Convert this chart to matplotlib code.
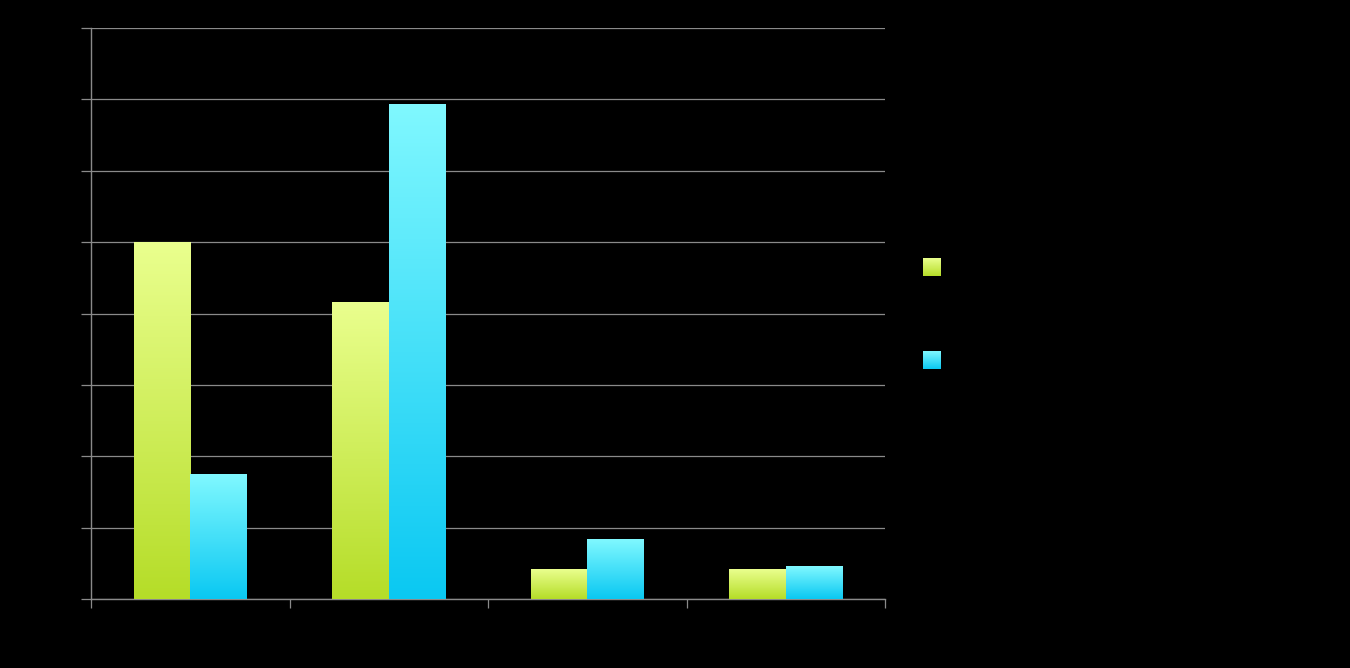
import numpy as np
import matplotlib
matplotlib.use("Agg")
import matplotlib.pyplot as plt
from matplotlib.colors import LinearSegmentedColormap

# values (grid units, 8 gridlines)
categories = ["", "", "", ""]
series_green = [5.0, 4.16, 0.41, 0.41]
series_blue = [1.75, 6.93, 0.83, 0.46]

green_cmap = LinearSegmentedColormap.from_list("g", ["#B5DD28", "#EAFF8E"])
blue_cmap = LinearSegmentedColormap.from_list("b", ["#0AC8F2", "#80F8FF"])
grad = np.linspace(0, 1, 256).reshape(-1, 1)

fig = plt.figure(figsize=[13.5, 6.68], dpi=100, facecolor="black")
ax = fig.add_axes([91 / 1350, 69 / 668, 794 / 1350, 571 / 668])
ax.set_facecolor("black")

x = np.arange(len(categories))
w = 0.285
# draw each bar as a vertical gradient image placed through data coords
for vals, cmap, off in [(series_green, green_cmap, -w / 2), (series_blue, blue_cmap, w / 2)]:
    bars = ax.bar(x + off, vals, width=w, color="none", edgecolor="none", zorder=3)
    for b in bars:
        x0, x1 = b.get_x(), b.get_x() + b.get_width()
        ax.imshow(grad, cmap=cmap, origin="lower", aspect="auto",
                  extent=[x0, x1, 0, b.get_height()], zorder=3)

ax.set_xlim(-0.5, len(categories) - 0.5)
ax.set_ylim(0, 8)
ax.set_yticks(np.arange(0, 9))
ax.set_xticks(np.arange(-0.5, len(categories)))
ax.set_yticklabels([])
ax.set_xticklabels([])
ax.yaxis.grid(True, color="#8a8a8a", linewidth=0.9, zorder=0)
ax.set_axisbelow(True)
for s in ["top", "right"]:
    ax.spines[s].set_visible(False)
for s in ["left", "bottom"]:
    ax.spines[s].set_color("#8a8a8a")
    ax.spines[s].set_linewidth(1.0)
ax.tick_params(axis="y", length=7.5, color="#8a8a8a", width=0.9, direction="out")
ax.tick_params(axis="x", length=6.5, color="#8a8a8a", width=0.9, direction="out")

# legend swatches (gradient squares, labels not visible in the original)
for cmap, ytop in [(green_cmap, 258), (blue_cmap, 351)]:
    lax = fig.add_axes([923 / 1350, (668 - ytop - 18) / 668, 18 / 1350, 18 / 668])
    lax.imshow(grad, cmap=cmap, origin="lower", aspect="auto")
    lax.axis("off")

plt.savefig("out.png", dpi=100, facecolor="black")
plt.close(fig)
